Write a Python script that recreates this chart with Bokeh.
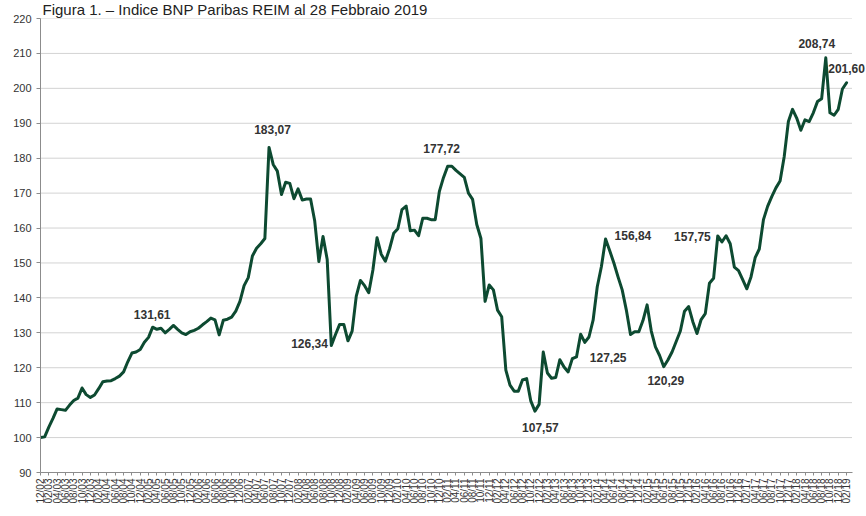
from math import pi
from bokeh.plotting import figure
from bokeh.models import FixedTicker, Range1d
from bokeh.core.properties import value
from bokeh.embed import file_html
from bokeh.resources import INLINE

title_text = "Figura 1. – Indice BNP Paribas REIM al 28 Febbraio 2019"

# monthly index values, 12/2002 .. 02/2019
start_year = 2002
start_month = 12
index_values = [
    100.0, 100.2, 103.0, 105.5, 108.2, 108.0, 107.8, 109.3, 110.6, 111.3,
    114.2, 112.3, 111.5, 112.2, 114.0, 116.0, 116.2, 116.3, 116.9, 117.6,
    118.8, 121.7, 124.2, 124.5, 125.2, 127.3, 128.7, 131.61, 131.0, 131.3,
    130.0, 131.0, 132.1, 131.0, 130.0, 129.5, 130.3, 130.7, 131.3, 132.3,
    133.2, 134.2, 133.7, 129.4, 133.6, 133.9, 134.5, 136.2, 139.0, 143.5,
    145.8, 152.0, 154.2, 155.5, 157.0, 183.07, 178.2, 176.3, 169.6, 173.1,
    172.8, 168.4, 171.2, 168.0, 168.3, 168.3, 162.0, 150.4, 157.6, 151.0,
    126.34, 129.5, 132.4, 132.4, 127.7, 130.5, 140.5, 145.0, 143.5, 141.5,
    148.0, 157.2, 152.5, 150.5, 154.0, 158.5, 159.8, 165.3, 166.3, 159.2,
    159.4, 157.8, 162.8, 162.8, 162.4, 162.4, 170.5, 174.5, 177.72, 177.7,
    176.5, 175.5, 174.5, 170.0, 168.2, 161.0, 157.0, 139.0, 143.7, 142.3,
    136.5, 134.6, 119.3, 115.0, 113.3, 113.3, 116.5, 116.9, 110.5, 107.57,
    109.5, 124.5, 118.5, 117.0, 117.2, 122.3, 120.2, 118.8, 122.6, 123.1,
    129.6, 127.25, 128.8, 133.6, 143.2, 149.0, 156.84, 153.5, 150.0, 146.0,
    142.3, 136.5, 129.5, 130.3, 130.3, 133.5, 138.0, 130.5, 126.0, 123.5,
    120.29, 122.2, 124.5, 127.5, 130.5, 136.2, 137.5, 133.2, 129.8, 133.8,
    135.5, 144.2, 145.6, 157.75, 156.0, 157.8, 155.5, 148.8, 147.8, 145.2,
    142.6, 146.0, 151.5, 154.0, 162.4, 166.2, 169.0, 171.5, 173.5, 180.5,
    190.5, 194.0, 191.5, 188.0, 191.0, 190.5, 193.0, 196.2, 197.0, 208.74,
    193.0, 192.3, 194.0, 199.8, 201.60,
]

n = len(index_values)
month_labels = []
for k in range(n):
    m = (start_month - 1 + k) % 12 + 1
    yy = (start_year + (start_month - 1 + k) // 12) % 100
    month_labels.append(f"{m:02d}/{yy:02d}")

y_ticks = [90, 100, 110, 120, 130, 140, 150, 160, 170, 180, 190, 200, 210, 220]

# indices of annotated points
annotated_idx = [27, 55, 70, 98, 119, 131, 136, 150, 163, 189, 194]

# label placement (screen offsets) for each annotated point
label_style = {
    27: ("center", -0.5, -13),
    55: ("center", 3.5, -18),
    70: ("right", -3.5, -2),
    98: ("center", -6, -17.5),
    119: ("center", 5.5, 16.5),
    131: ("left", 5, 15),
    136: ("left", 9, -4),
    150: ("center", 2, 13.5),
    163: ("right", -7, 1),
    189: ("center", -9, -14.5),
    194: ("center", 0, -14),
}

FONT = "Liberation Sans"
LINE_COLOR = "#0d4a31"
X_END = 198.8      # frame reaches the right edge of the window
GRID_END = 195.4   # where axis / gridlines stop

p = figure(width=866, height=516, output_backend="svg", toolbar_location=None,
           x_range=Range1d(0, X_END), y_range=Range1d(90, 220),
           min_border_left=40, min_border_right=0, min_border_top=18,
           min_border_bottom=44)
p.outline_line_color = None
p.background_fill_color = "white"
p.border_fill_color = "white"

# dotted horizontal gridlines
grid_y = y_ticks[1:]
p.segment(x0=[0] * len(grid_y), x1=[GRID_END] * len(grid_y), y0=grid_y, y1=grid_y,
          line_color="#a6a6a6", line_dash="1 1", line_width=1)

x_idx = list(range(n))
p.line(x_idx, index_values, line_width=3, line_color=LINE_COLOR,
       line_join="round", line_cap="round")

for i in annotated_idx:
    align, dx, dy = label_style[i]
    txt = f"{index_values[i]:.2f}".replace(".", ",")
    p.text(x=[i], y=[index_values[i]], text=[txt], x_offset=dx, y_offset=dy,
           text_align=align, text_baseline="middle", text_font=value(FONT),
           text_font_size="12px", text_font_style="bold", text_color="#333333")

# y axis
p.yaxis.ticker = FixedTicker(ticks=y_ticks)
p.yaxis.axis_line_color = "#8c8c8c"
p.yaxis.major_tick_line_color = "#8c8c8c"
p.yaxis.major_tick_out = 4
p.yaxis.major_tick_in = 0
p.yaxis.minor_tick_line_color = None
p.yaxis.major_label_text_font = FONT
p.yaxis.major_label_text_font_size = "11px"
p.yaxis.major_label_text_color = "#333333"
p.yaxis.major_label_standoff = 5

# x axis
p.xaxis.ticker = FixedTicker(ticks=list(range(0, n, 2)))
p.xaxis.major_label_overrides = {i: month_labels[i] for i in range(0, n, 2)}
p.xaxis.major_label_orientation = pi / 2
p.xaxis.bounds = (0, GRID_END)
p.xaxis.axis_line_color = "#8c8c8c"
p.xaxis.major_tick_line_color = "#8c8c8c"
p.xaxis.major_tick_out = 3
p.xaxis.major_tick_in = 0
p.xaxis.minor_tick_line_color = None
p.xaxis.major_label_text_font = FONT
p.xaxis.major_label_text_font_size = "10px"
p.xaxis.major_label_text_color = "#333333"
p.xaxis.major_label_standoff = 3

p.xgrid.visible = False
p.ygrid.visible = False

# title squeezed into the narrow band above the plot area
p.title.text = title_text
p.title.align = "left"
p.title.offset = 2
p.title.standoff = -36
p.title.vertical_align = "top"
p.title.text_font = FONT
p.title.text_font_size = "15px"
p.title.text_font_style = "normal"
p.title.text_color = "#222222"

open("out.html", "w").write(file_html(p, INLINE))
